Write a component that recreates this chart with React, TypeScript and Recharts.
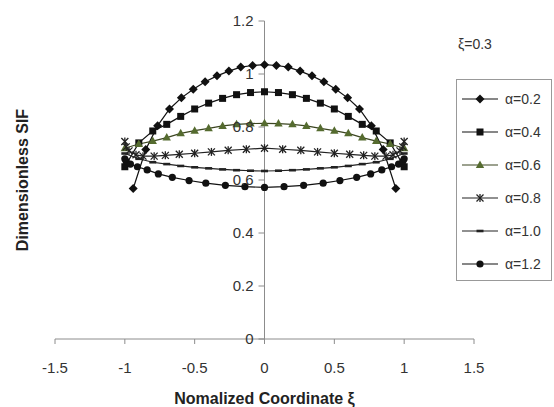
import { LineChart, Line, XAxis, YAxis, ReferenceLine, Legend } from "recharts"

const FONT = '"Liberation Sans", Arial, sans-serif'
const AXIS = "#8c8c8c"
const TEXT = "#333"

const xTicks = [-1.5, -1, -0.5, 0, 0.5, 1, 1.5]
const yTicks = [0, 0.2, 0.4, 0.6, 0.8, 1, 1.2]

// sample positions and values (each curve has its own grid)
const xs02 = [-0.94, -0.85, -0.765, -0.68, -0.595, -0.51, -0.425, -0.34, -0.255, -0.17, -0.085, 0, 0.085, 0.17, 0.255, 0.34, 0.425, 0.51, 0.595, 0.68, 0.765, 0.85, 0.94]
const a02 = [0.568, 0.715, 0.805, 0.868, 0.91, 0.942, 0.971, 0.993, 1.011, 1.026, 1.032, 1.035, 1.032, 1.026, 1.011, 0.993, 0.971, 0.942, 0.91, 0.868, 0.805, 0.715, 0.568]

const xs04 = [-1, -0.9, -0.8, -0.7, -0.6, -0.5, -0.4, -0.3, -0.2, -0.1, 0, 0.1, 0.2, 0.3, 0.4, 0.5, 0.6, 0.7, 0.8, 0.9, 1]
const a04 = [0.65, 0.74, 0.785, 0.81, 0.84, 0.868, 0.89, 0.908, 0.922, 0.93, 0.933, 0.93, 0.922, 0.908, 0.89, 0.868, 0.84, 0.81, 0.785, 0.74, 0.65]

const xs06 = [-1, -0.9, -0.8, -0.7, -0.6, -0.5, -0.4, -0.3, -0.2, -0.1, 0, 0.1, 0.2, 0.3, 0.4, 0.5, 0.6, 0.7, 0.8, 0.9, 1]
const a06 = [0.72, 0.736, 0.747, 0.76, 0.776, 0.786, 0.795, 0.804, 0.81, 0.813, 0.814, 0.813, 0.81, 0.804, 0.795, 0.786, 0.776, 0.76, 0.747, 0.736, 0.72]

const xs08 = [-1, -0.99, -0.97, -0.92, -0.87, -0.79, -0.71, -0.61, -0.5, -0.38, -0.26, -0.13, 0, 0.13, 0.26, 0.38, 0.5, 0.61, 0.71, 0.79, 0.87, 0.92, 0.97, 0.99, 1]
const a08 = [0.745, 0.725, 0.71, 0.695, 0.69, 0.69, 0.693, 0.697, 0.701, 0.706, 0.712, 0.716, 0.72, 0.716, 0.712, 0.706, 0.701, 0.697, 0.693, 0.69, 0.69, 0.695, 0.71, 0.725, 0.745]

const xs10 = [-1, -0.9, -0.8, -0.7, -0.6, -0.5, -0.4, -0.3, -0.2, -0.1, 0, 0.1, 0.2, 0.3, 0.4, 0.5, 0.6, 0.7, 0.8, 0.9, 1]
const a10 = [0.7, 0.68, 0.667, 0.66, 0.653, 0.648, 0.644, 0.64, 0.637, 0.635, 0.634, 0.635, 0.637, 0.64, 0.644, 0.648, 0.653, 0.66, 0.667, 0.68, 0.7]

const xs12 = [-1, -0.99, -0.96, -0.91, -0.84, -0.76, -0.66, -0.54, -0.42, -0.28, -0.14, 0, 0.14, 0.28, 0.42, 0.54, 0.66, 0.76, 0.84, 0.91, 0.96, 0.99, 1]
const a12 = [0.68, 0.67, 0.66, 0.65, 0.638, 0.623, 0.61, 0.598, 0.588, 0.58, 0.575, 0.572, 0.575, 0.58, 0.588, 0.598, 0.61, 0.623, 0.638, 0.65, 0.66, 0.67, 0.68]

type Kind = "diamond" | "square" | "triangle" | "star" | "dash" | "circle"

const SERIES: { name: string; kind: Kind; xs: number[]; ys: number[]; color: string; line: string }[] = [
  { name: "α=0.2", kind: "diamond", xs: xs02, ys: a02, color: "#111", line: "#111" },
  { name: "α=0.4", kind: "square", xs: xs04, ys: a04, color: "#111", line: "#111" },
  { name: "α=0.6", kind: "triangle", xs: xs06, ys: a06, color: "#556b2f", line: "#3b4520" },
  { name: "α=0.8", kind: "star", xs: xs08, ys: a08, color: "#222", line: "#222" },
  { name: "α=1.0", kind: "dash", xs: xs10, ys: a10, color: "#222", line: "#222" },
  { name: "α=1.2", kind: "circle", xs: xs12, ys: a12, color: "#111", line: "#111" },
]

const W = 554
const H = 407
const Y_AXIS_W = 1
const MARGIN = { top: 21, right: 80, left: 55 - Y_AXIS_W, bottom: 28 }
const X_DOMAIN: [number, number] = [-1.5, 1.5]
const PLOT_LEFT = MARGIN.left + Y_AXIS_W
const PLOT_W = W - PLOT_LEFT - MARGIN.right
// the y axis crosses at x = 0
const X_ZERO = PLOT_LEFT + (PLOT_W * (0 - X_DOMAIN[0])) / (X_DOMAIN[1] - X_DOMAIN[0])

function Marker({ kind, cx, cy, color }: { kind: Kind; cx: number; cy: number; color: string }) {
  if (cx == null || cy == null) return null
  switch (kind) {
    case "diamond":
      return <polygon points={`${cx},${cy - 4.5} ${cx + 4.5},${cy} ${cx},${cy + 4.5} ${cx - 4.5},${cy}`} fill={color} />
    case "square":
      return <rect x={cx - 3.5} y={cy - 3.5} width={7} height={7} fill={color} />
    case "triangle":
      return <polygon points={`${cx},${cy - 4.5} ${cx + 4.2},${cy + 3} ${cx - 4.2},${cy + 3}`} fill={color} />
    case "star":
      return (
        <g stroke={color} strokeWidth={1.3}>
          <line x1={cx - 3.5} y1={cy - 3.5} x2={cx + 3.5} y2={cy + 3.5} />
          <line x1={cx - 3.5} y1={cy + 3.5} x2={cx + 3.5} y2={cy - 3.5} />
          <line x1={cx} y1={cy - 4} x2={cx} y2={cy + 4} />
        </g>
      )
    case "dash":
      return <line x1={cx - 3.5} x2={cx + 3.5} y1={cy} y2={cy} stroke={color} strokeWidth={2.6} />
    default:
      return <circle cx={cx} cy={cy} r={3.6} fill={color} />
  }
}

function YTick(props: any) {
  const { y, payload } = props
  return (
    <g>
      <line x1={X_ZERO - 6} x2={X_ZERO} y1={y} y2={y} stroke={AXIS} />
      <text x={X_ZERO - 11} y={y} dy="0.35em" textAnchor="end" fontSize={15} fontFamily={FONT} fill={TEXT}>
        {payload.value}
      </text>
    </g>
  )
}

function LegendBox() {
  return (
    <div style={{ fontFamily: FONT, color: TEXT }}>
      <div style={{ fontSize: 14, lineHeight: "16px", height: 16, marginBottom: 27, paddingLeft: 2 }}>ξ=0.3</div>
      <div style={{ border: "1px solid #999", width: 96, boxSizing: "border-box", paddingTop: 2 }}>
        {SERIES.map((s) => (
          <div key={s.name} style={{ display: "flex", alignItems: "center", height: 33 }}>
            <svg width={36} height={14} style={{ marginLeft: 5, marginRight: 7 }}>
              <line x1={0} x2={36} y1={7} y2={7} stroke={s.line} strokeWidth={1.2} />
              <Marker kind={s.kind} cx={18} cy={7} color={s.color} />
            </svg>
            <span style={{ fontSize: 14 }}>{s.name}</span>
          </div>
        ))}
      </div>
    </div>
  )
}

export default function App() {
  return (
    <div>
      <style>{"body{margin:0}"}</style>
      <LineChart width={W} height={H} margin={MARGIN}>
        <XAxis
          type="number"
          dataKey="x"
          domain={X_DOMAIN}
          ticks={xTicks}
          interval={0}
          allowDataOverflow
          axisLine={{ stroke: AXIS }}
          tickLine={{ stroke: AXIS }}
          tickSize={5}
          tickMargin={18}
          height={40}
          tick={{ fontSize: 15, fill: TEXT, fontFamily: FONT }}
          label={{
            content: ({ viewBox }: any) => (
              <text
                x={viewBox.x + viewBox.width / 2}
                y={viewBox.y + 59}
                dy="0.35em"
                textAnchor="middle"
                fontSize={16}
                fontWeight="bold"
                fontFamily={FONT}
                fill="#222"
              >
                Nomalized Coordinate ξ
              </text>
            ),
          }}
        />
        <YAxis
          type="number"
          domain={[0, 1.2]}
          ticks={yTicks}
          interval={0}
          width={Y_AXIS_W}
          axisLine={false}
          tickLine={false}
          tick={(p: any) => <YTick {...p} />}
          label={{
            content: ({ viewBox }: any) => {
              const cy = viewBox.y + viewBox.height / 2
              return (
                <text
                  x={22}
                  y={cy}
                  dy="0.35em"
                  transform={`rotate(-90 22 ${cy})`}
                  textAnchor="middle"
                  fontSize={16}
                  fontWeight="bold"
                  fontFamily={FONT}
                  fill="#222"
                >
                  Dimensionless SIF
                </text>
              )
            },
          }}
        />
        <ReferenceLine x={0} stroke={AXIS} />
        {SERIES.map((s) => (
          <Line
            key={s.name}
            name={s.name}
            data={s.xs.map((x, i) => ({ x, y: s.ys[i] }))}
            dataKey="y"
            type="linear"
            stroke={s.line}
            strokeWidth={1.2}
            isAnimationActive={false}
            dot={(p: any) => <Marker key={`${s.name}-${p.index}`} kind={s.kind} cx={p.cx} cy={p.cy} color={s.color} />}
            activeDot={false}
          />
        ))}
        <Legend
          layout="vertical"
          align="center"
          verticalAlign="middle"
          wrapperStyle={{ left: 456, top: 36, width: 98 }}
          content={() => <LegendBox />}
        />
      </LineChart>
    </div>
  )
}
